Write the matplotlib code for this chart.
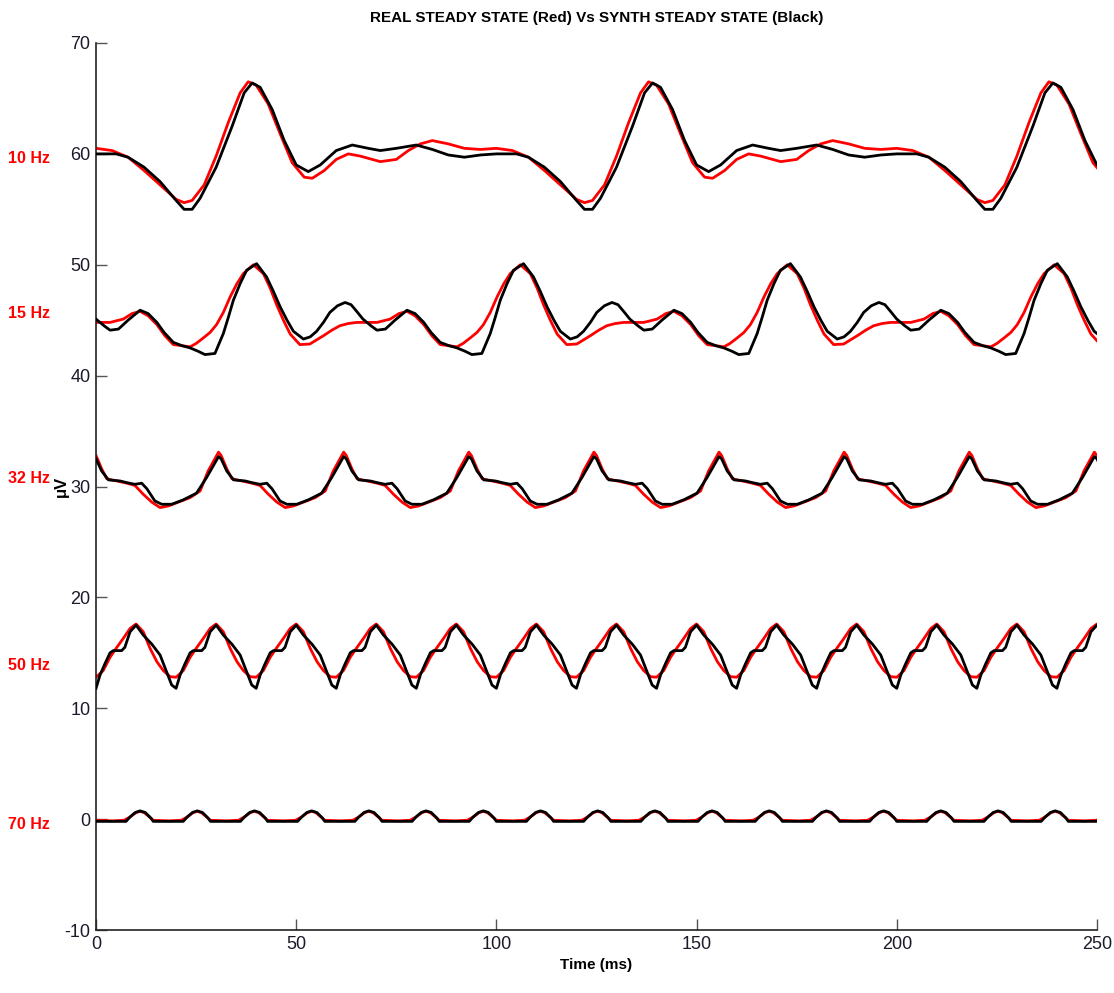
"""Real vs synthetic steady-state responses at five stimulation rates."""

import numpy as np
import matplotlib
matplotlib.use("Agg")
import matplotlib.pyplot as plt
import matplotlib.transforms as mtransforms

plt.rcParams["font.family"] = ["Liberation Sans Narrow", "Liberation Sans", "DejaVu Sans"]
plt.rcParams["axes.unicode_minus"] = False

# ---------------------------------------------------------------------------
# Data: one steady-state cycle per series (t in ms, µV)
# ---------------------------------------------------------------------------

T_END = 250.0

# 10 Hz
P10 = 100.0
t10_real = [0, 4, 8, 12, 16, 20, 22, 24, 27, 30, 33, 36, 38, 40, 43, 46, 49, 52, 54,
            57, 60, 63, 66, 71, 75, 78, 81, 84, 88, 92, 96]
v10_real = [60.5, 60.3, 59.7, 58.5, 57.2, 55.9, 55.6, 55.8, 57.2, 59.8, 62.8, 65.5,
            66.5, 66.2, 64.5, 61.8, 59.2, 57.9, 57.8, 58.5, 59.5, 60.0, 59.8, 59.3,
            59.5, 60.3, 60.9, 61.2, 60.9, 60.5, 60.4]
t10_synth = [0, 5, 8, 12, 16, 20, 22, 24, 26, 30, 34, 37, 39, 41, 44, 47, 50, 53, 56,
             60, 64, 68, 71, 75, 80, 84, 88, 92, 96]
v10_synth = [60.0, 60.0, 59.7, 58.8, 57.5, 55.8, 55.0, 55.0, 56.0, 58.8, 62.5, 65.5,
             66.4, 66.0, 64.0, 61.2, 59.0, 58.4, 59.0, 60.3, 60.8, 60.5, 60.3, 60.5,
             60.8, 60.4, 59.9, 59.7, 59.9]

# 15 Hz
P15 = 1000.0 / 15
t15_real = [0, 3.5, 6.8, 9, 11, 13, 15.2, 17.2, 19.3, 21.5, 23.5, 25, 26.8, 28.5, 30.1,
            31.8, 33.5, 35.2, 36.8, 39.3, 41.8, 43.5, 45.1, 46.8, 48.5, 50.9, 53.4, 55,
            56.8, 58.9, 60.9, 63, 65.1]
v15_real = [44.8, 44.8, 45.1, 45.6, 45.8, 45.4, 44.6, 43.6, 42.8, 42.7, 42.6, 42.9,
            43.4, 43.9, 44.6, 45.7, 47.1, 48.3, 49.2, 50.0, 49.2, 47.9, 46.4, 45.0,
            43.75, 42.8, 42.85, 43.2, 43.6, 44.1, 44.5, 44.7, 44.8]
t15_synth = [0, 2, 3.5, 5.6, 8, 11, 13, 15.2, 17, 19.3, 21.5, 23.5, 25.5, 27.2, 29.7,
             31.8, 33, 34.3, 36, 37.6, 40.1, 42.6, 44.3, 46, 47.7, 49.3, 51.8, 53.5,
             55.1, 56.8, 58.4, 60.3, 62.2, 63.7, 65.1]
v15_synth = [45.1, 44.5, 44.1, 44.2, 45.0, 45.9, 45.6, 44.8, 43.9, 43.0, 42.7, 42.5,
             42.2, 41.9, 42.0, 43.8, 45.2, 46.8, 48.3, 49.5, 50.1, 48.9, 47.6, 46.2,
             45.0, 44.0, 43.3, 43.5, 44.0, 44.8, 45.7, 46.3, 46.6, 46.4, 45.8]

# 32 Hz
P32 = 1000.0 / 32
t32_real = [0, 1.4, 2.7, 5.2, 7.7, 9.7, 11.8, 13.9, 16, 18.1, 20.6, 23.5, 26, 28, 30.6]
v32_real = [32.8, 31.6, 30.7, 30.5, 30.3, 30.1, 29.3, 28.6, 28.1, 28.25, 28.6, 29.0,
            29.6, 31.4, 33.1]
t32_synth = [0, 1.4, 3.1, 6, 7.7, 9.7, 11.4, 12.7, 14.7, 16.4, 18.9, 21.8, 25.1, 27.6, 30.6]
v32_synth = [32.5, 31.4, 30.6, 30.5, 30.35, 30.2, 30.3, 29.8, 28.7, 28.4, 28.4, 28.8,
             29.4, 30.8, 32.7]

# 50 Hz
P50 = 20.0
t50_real = [0, 1.8, 3.5, 5.2, 6.8, 8.5, 10, 11.8, 13.5, 15.2, 16.8, 18.5]
v50_real = [12.8, 13.4, 14.6, 15.5, 16.3, 17.2, 17.6, 16.9, 15.4, 14.2, 13.4, 12.85]
t50_synth = [0, 1, 2.2, 3.5, 4.3, 6.4, 7.2, 8.5, 10, 11.8, 13.9, 16, 17.6, 18.9]
v50_synth = [11.8, 13.0, 14.0, 15.0, 15.2, 15.2, 15.5, 16.9, 17.5, 16.6, 15.8, 14.8,
             13.3, 12.1]

# 70 Hz
P70 = 1000.0 / 70
t70_real = [0, 4, 7, 8.5, 10, 11, 12, 13.5]
v70_real = [-0.1, -0.15, -0.1, 0.2, 0.6, 0.7, 0.6, 0.15]
t70_synth = [0, 7.5, 8.5, 9.8, 11, 12.3, 13.7]
v70_synth = [-0.2, -0.2, 0.2, 0.6, 0.75, 0.6, 0.1]

rate_labels = ["10 Hz", "15 Hz", "32 Hz", "50 Hz", "70 Hz"]
rate_label_y = [59.6, 45.6, 30.7, 13.9, -0.5]

series = [
    (P10, t10_real, v10_real, t10_synth, v10_synth),
    (P15, t15_real, v15_real, t15_synth, v15_synth),
    (P32, t32_real, v32_real, t32_synth, v32_synth),
    (P50, t50_real, v50_real, t50_synth, v50_synth),
    (P70, t70_real, v70_real, t70_synth, v70_synth),
]


def repeat_cycle(t_cycle, v_cycle, period):
    """Repeat one steady-state cycle across the whole time window."""
    n = int(np.ceil(T_END / period)) + 1
    t = np.concatenate([np.asarray(t_cycle) + k * period for k in range(n)])
    v = np.tile(np.asarray(v_cycle), n)
    return t, v


# ---------------------------------------------------------------------------
# Figure
# ---------------------------------------------------------------------------

fig = plt.figure(figsize=(11.14, 9.93), dpi=100)
ax = fig.add_axes([0.0862, 0.0634, 0.8985, 0.8933])

for period, tr, vr, ts, vs in series:
    t, v = repeat_cycle(tr, vr, period)
    ax.plot(t, v, color="#ff0000", linewidth=2.0, zorder=2)
    t, v = repeat_cycle(ts, vs, period)
    ax.plot(t, v, color="#000000", linewidth=2.0, zorder=3)

ax.set_xlim(0, T_END)
ax.set_ylim(-10, 70)
ax.set_xticks(np.arange(0, 251, 50))
ax.set_yticks(np.arange(-10, 71, 10))

ax.spines["top"].set_visible(False)
ax.spines["right"].set_visible(False)
for side in ("left", "bottom"):
    ax.spines[side].set_color("#222222")
    ax.spines[side].set_linewidth(1.2)
ax.tick_params(direction="in", length=8, width=1.0, color="#555555",
               labelsize=13, labelcolor="#1a1a2a", pad=4)

ax.set_title("REAL STEADY STATE (Red) Vs SYNTH STEADY STATE (Black)",
             fontsize=11, fontweight="bold", pad=15)
ax.set_xlabel("Time (ms)", fontsize=11, fontweight="bold", labelpad=4)
ax.set_ylabel("\u03bcV", fontsize=12, fontweight="bold")
ax.yaxis.set_label_coords(-0.027, 0.5)

trans = mtransforms.blended_transform_factory(ax.transAxes, ax.transData)
for label, y in zip(rate_labels, rate_label_y):
    ax.text(-0.088, y, label, transform=trans, color="#ff0000", fontsize=11.5,
            fontweight="bold", ha="left", va="center")

fig.savefig("out.png", dpi=100, facecolor="white")
plt.close(fig)
